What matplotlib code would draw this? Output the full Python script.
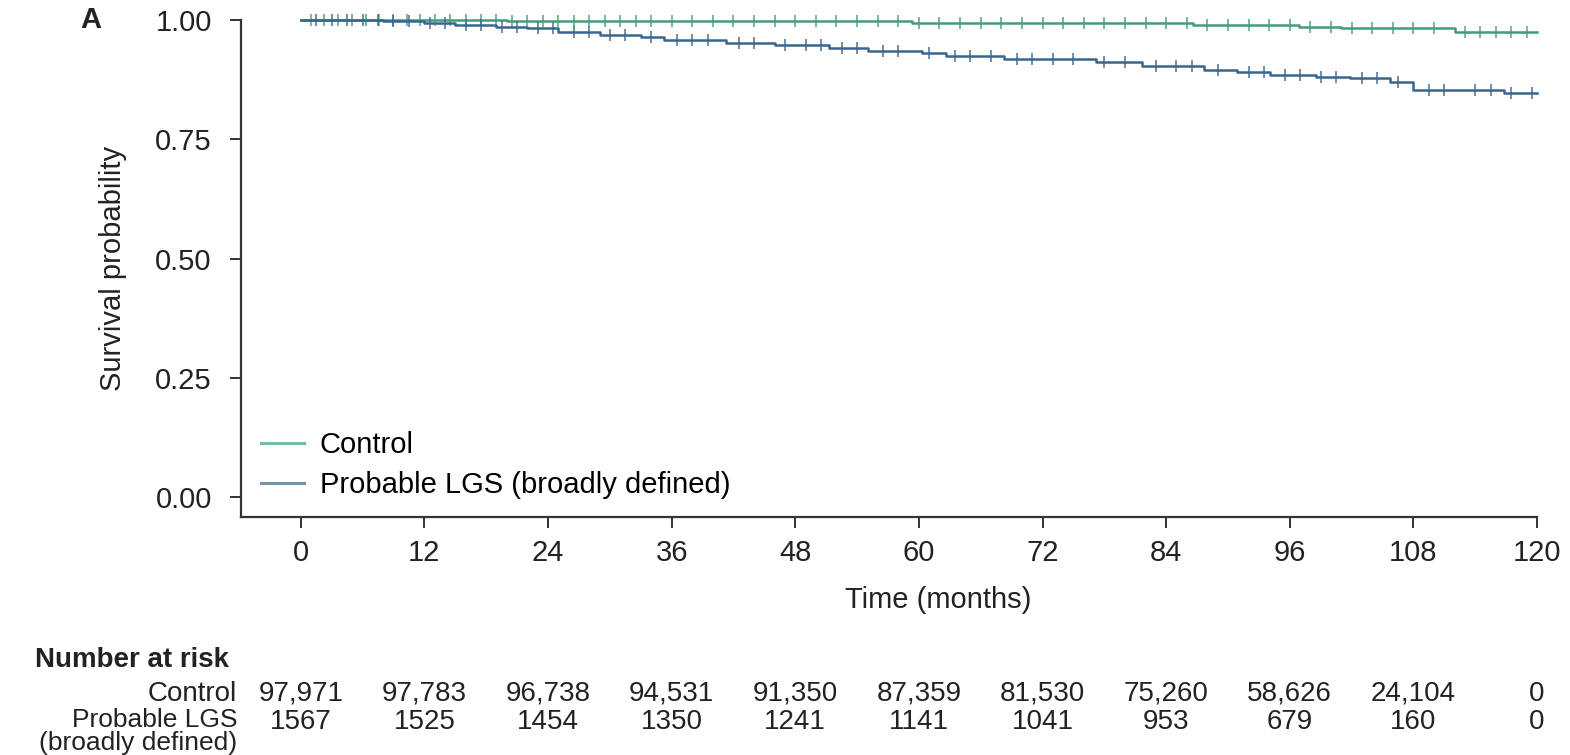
import numpy as np
import matplotlib
matplotlib.use('Agg')
import matplotlib.pyplot as plt

plt.rcParams['font.family'] = ['Liberation Sans', 'DejaVu Sans']

# %% data
ctrl_t = [0, 20, 59.3, 86.6, 96.9, 101, 112, 120]
ctrl_s = [1.0, 0.998, 0.994, 0.989, 0.986, 0.984, 0.975, 0.975]
lgs_t = [0, 8, 12, 15, 19, 22, 25, 29, 33, 35.3, 41.3, 46, 51.3, 55.1, 60.3, 62.6,
         68.3, 77.2, 81.7, 87.7, 90.9, 94.1, 98.5, 101.8, 105.7, 108, 116.8, 120]
lgs_s = [1.0, 0.997, 0.993, 0.99, 0.985, 0.983, 0.975, 0.969, 0.964, 0.958, 0.952, 0.948,
         0.942, 0.936, 0.930, 0.925, 0.918, 0.911, 0.904, 0.895, 0.890, 0.885, 0.880,
         0.878, 0.870, 0.853, 0.847, 0.847]

ctrl_cens = [1, 2.3, 3.6, 5, 6.3, 7.6, 9, 10.3, 11.6, 13, 14.5, 16, 17.5, 19, 20.5, 22,
             23.5, 25, 26.5, 28, 29.5, 31, 32.5, 34, 36, 38, 40, 42, 44, 46, 48, 50, 52,
             54, 56, 58, 60, 62, 64, 66, 68, 70, 72, 74, 76, 78, 80, 82, 84, 86, 88, 90,
             92, 94, 96, 98, 100, 102, 104, 106, 108, 110, 113, 114.5, 116, 117.5, 119]
lgs_cens = [1.5, 3, 4.5, 6, 7.5, 9, 10.5, 12.5, 14, 16, 17.5, 19.5, 21, 23, 24.5, 26.5,
            28, 30, 31.5, 34, 36.5, 38, 39.5, 42.5, 44, 47, 49, 50.5, 52.5, 54, 56.5, 58,
            61, 63.5, 65, 67, 69.5, 71, 73, 75, 78, 80, 83, 85, 86.5, 89, 92, 93.5, 95.5,
            97, 99, 100.5, 103, 104.5, 106.5, 109.5, 111, 114, 115.5, 117.5, 119.5]

risk_times = [0, 12, 24, 36, 48, 60, 72, 84, 96, 108, 120]
risk_ctrl = ['97,971', '97,783', '96,738', '94,531', '91,350', '87,359', '81,530',
             '75,260', '58,626', '24,104', '0']
risk_lgs = ['1567', '1525', '1454', '1350', '1241', '1141', '1041', '953', '679', '160', '0']

green = '#449c79'
blue = '#3a6590'
dark = '#333333'
txt = '#222222'
fs = 21
fs_tab = 20

fig = plt.figure(figsize=(15.7, 7.55), dpi=100)
ax = fig.add_axes([241/1570, 1-517/755, (1537-241)/1570, (517-20)/755])


def surv_at(tt, ss, x):
    idx = np.searchsorted(tt, x, side='right') - 1
    return np.asarray(ss)[idx]


for tt, ss, cens, col, lab in [(ctrl_t, ctrl_s, ctrl_cens, green, 'Control'),
                                (lgs_t, lgs_s, lgs_cens, blue, 'Probable LGS (broadly defined)')]:
    ax.step(tt, ss, where='post', color=col, lw=1.8, label=lab, clip_on=False, zorder=3)
    ax.plot(cens, surv_at(tt, ss, cens), linestyle='none', marker='|', ms=9, mew=1.2,
            color=col, clip_on=False, zorder=3, alpha=0.85)

ax.set_xlim(-5.8, 120)
ax.set_ylim(-20/477, 1.0)
ax.set_xticks(risk_times)
ax.set_yticks([0, 0.25, 0.5, 0.75, 1.0])
ax.set_yticklabels(['0.00', '0.25', '0.50', '0.75', '1.00'])
for s in ['top', 'right']:
    ax.spines[s].set_visible(False)
for s in ['left', 'bottom']:
    ax.spines[s].set_color(dark)
    ax.spines[s].set_linewidth(1.6)
ax.tick_params(axis='both', labelsize=fs, colors=dark, length=8, width=1.4, labelcolor=txt)
ax.tick_params(axis='x', pad=8)
ax.tick_params(axis='y', pad=13)
ax.set_ylabel('Survival probability', fontsize=fs, color=txt, labelpad=20)

leg = ax.legend(loc='lower left', bbox_to_anchor=(0.0, -0.005), frameon=False, fontsize=fs,
                handlelength=1.45, handletextpad=0.55, labelspacing=0.4, borderaxespad=0.3)
for h in leg.get_lines():
    h.set_alpha(0.7)
    h.set_linewidth(2.2)

fig.text(938/1570, 1-600/755, 'Time (months)', fontsize=fs, color=txt,
         ha='center', va='center')
fig.text(80/1570, 1-20/755, 'A', fontsize=fs, fontweight='bold', color=txt,
         ha='left', va='center')

# risk table
fig.text(35/1570, 1-660/755, 'Number at risk', fontsize=fs_tab, fontweight='bold',
         color=txt, ha='left', va='center')
fig.text(237/1570, 1-694/755, 'Control', fontsize=fs_tab, color=txt, ha='right', va='center')
fig.text(237/1570, 1-708/755, 'Probable LGS\n(broadly defined)', fontsize=fs_tab - 1,
         color=txt, ha='right', va='top', multialignment='right', linespacing=0.95)
for t, c, p in zip(risk_times, risk_ctrl, risk_lgs):
    xf = ax.transData.transform((t, 0))[0] / fig.bbox.width
    fig.text(xf, 1-694/755, c, fontsize=fs_tab, color=txt, ha='center', va='center')
    fig.text(xf, 1-722/755, p, fontsize=fs_tab, color=txt, ha='center', va='center')

fig.savefig('out.png', dpi=100)
